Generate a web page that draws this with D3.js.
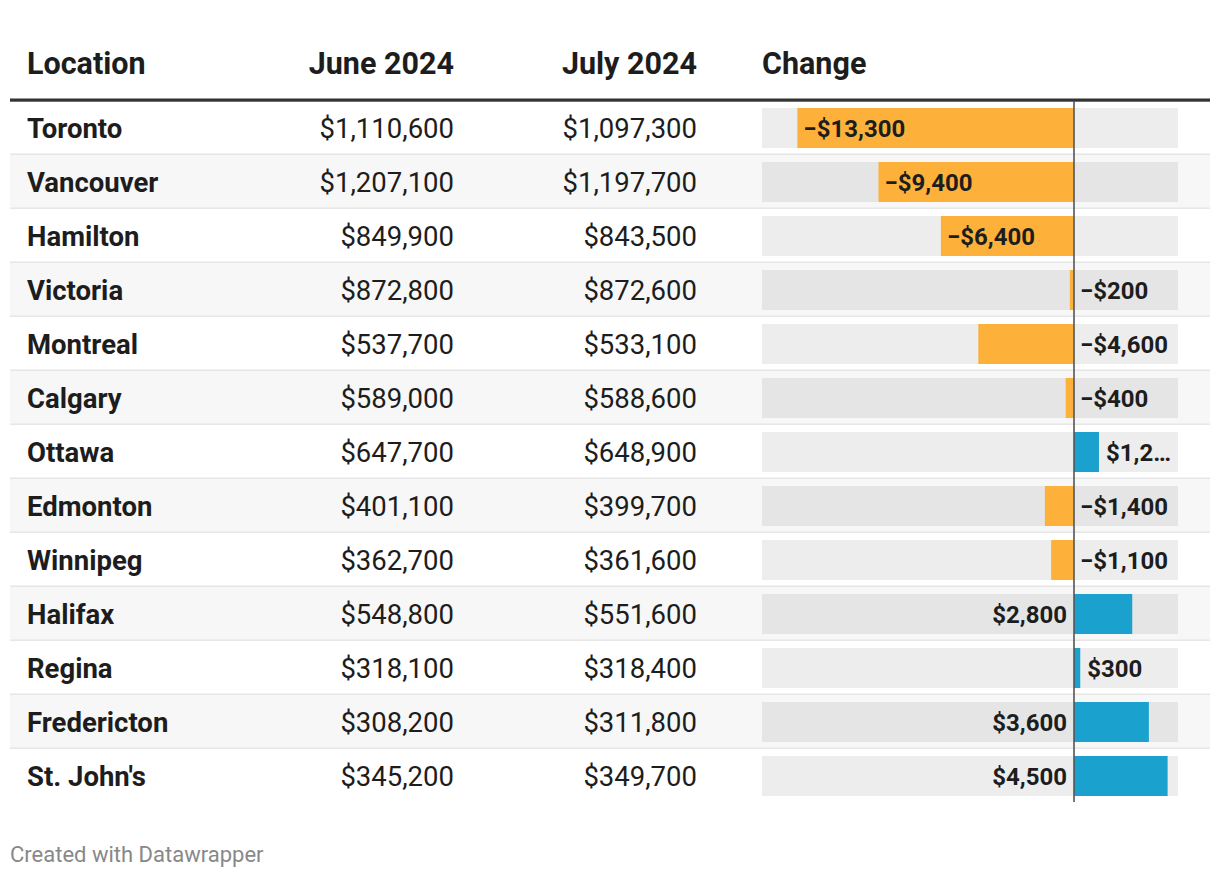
<!DOCTYPE html>
<html><head><meta charset="utf-8">
<script src="https://cdn.jsdelivr.net/npm/d3@7"></script>
<style>
body{margin:0;background:#fff;}
text{font-family:Roboto,"Noto Sans",sans-serif;}
</style></head>
<body><svg id="c" width="1220" height="878"></svg>
<script>
const headers = ["Location", "June 2024", "July 2024", "Change"];
const locations = ["Toronto","Vancouver","Hamilton","Victoria","Montreal","Calgary","Ottawa","Edmonton","Winnipeg","Halifax","Regina","Fredericton","St. John's"];
const june2024 = [1110600,1207100,849900,872800,537700,589000,647700,401100,362700,548800,318100,308200,345200];
const july2024 = [1097300,1197700,843500,872600,533100,588600,648900,399700,361600,551600,318400,311800,349700];
const change = [-13300,-9400,-6400,-200,-4600,-400,1200,-1400,-1100,2800,300,3600,4500];
const changeDomain = [-15000, 5000];
const footer = "Created with Datawrapper";

const svg = d3.select("#c");
const fmtMoney = v => (v < 0 ? "\u2212$" : "$") + d3.format(",")(Math.abs(v));

const y = d3.scaleBand().domain(locations).range([101, 101 + 54*locations.length]).padding(0);
const x = d3.scaleLinear().domain(changeDomain).range([762, 1178]);
const x0 = x(0);

// header
const hy = 74;
const hdr = svg.append("g").attr("font-weight", 700).attr("font-size", 30.5).attr("fill", "#1d1d1d");
hdr.append("text").attr("x", 27).attr("y", hy).text(headers[0]);
hdr.append("text").attr("x", 454).attr("y", hy).attr("text-anchor", "end").text(headers[1]);
hdr.append("text").attr("x", 697).attr("y", hy).attr("text-anchor", "end").text(headers[2]);
hdr.append("text").attr("x", 762).attr("y", hy).text(headers[3]);

// rows
const rows = svg.append("g").selectAll("g").data(locations).join("g")
  .attr("transform", d => `translate(0,${y(d)})`);
rows.append("rect").attr("x", 10).attr("width", 1200).attr("y", 0).attr("height", y.bandwidth())
  .attr("fill", (d,i) => i % 2 ? "#f7f7f7" : "#ffffff");
rows.filter((d,i) => i < locations.length - 1).append("rect").attr("x", 10).attr("width", 1200)
  .attr("y", y.bandwidth() - 1.5).attr("height", 1.5).attr("fill", "#e6e6e6");

const ty = 37;
rows.append("text").attr("x", 27).attr("y", ty).attr("font-size", 27.5).attr("font-weight", 700)
  .attr("fill", "#1d1d1d").text(d => d);
rows.append("text").attr("x", 454).attr("y", ty).attr("font-size", 27.5).attr("text-anchor", "end")
  .attr("fill", "#1d1d1d").text((d,i) => fmtMoney(june2024[i]));
rows.append("text").attr("x", 697).attr("y", ty).attr("font-size", 27.5).attr("text-anchor", "end")
  .attr("fill", "#1d1d1d").text((d,i) => fmtMoney(july2024[i]));

// bar backgrounds
rows.append("rect").attr("x", x(changeDomain[0])).attr("width", x(changeDomain[1]) - x(changeDomain[0]))
  .attr("y", 7).attr("height", 40).attr("fill", "rgba(0,0,0,0.07)");
// bars
rows.append("rect")
  .attr("x", (d,i) => Math.min(x(change[i]), x0))
  .attr("width", (d,i) => Math.abs(x(change[i]) - x0))
  .attr("y", 7).attr("height", 40)
  .attr("fill", (d,i) => change[i] < 0 ? "#fdb13b" : "#1aa1ce");

// labels
rows.each(function(d,i){
  const g = d3.select(this);
  const v = change[i];
  const t = g.append("text").attr("y", 35.5).attr("font-size", 24).attr("font-weight", 700)
    .attr("fill", "#1d1d1d").text(fmtMoney(v));
  const w = t.node().getComputedTextLength();
  const barW = Math.abs(x(v) - x0);
  if (v < 0) {
    if (barW > w + 14) { t.attr("x", x(v) + 6); }
    else { t.attr("x", x0 + 6); }
  } else {
    const rightSpace = x(changeDomain[1]) - x(v) - 7;
    if (w + 2 <= rightSpace) { t.attr("x", x(v) + 7); }
    else if (v >= 2000) { t.attr("x", x0 - 7).attr("text-anchor", "end"); }
    else {
      t.attr("x", x(v) + 7);
      let s = fmtMoney(v);
      while (t.node().getComputedTextLength() > rightSpace && s.length > 1) {
        s = s.slice(0, -1);
        t.text(s + "\u2026");
      }
    }
  }
});

// header rule
svg.append("rect").attr("x", 10).attr("width", 1200).attr("y", 98.5).attr("height", 3.2).attr("fill", "#333");
// zero line
svg.append("line").attr("x1", x0).attr("x2", x0).attr("y1", 101).attr("y2", y.range()[1] - 1)
  .attr("stroke", "#555").attr("stroke-width", 1.6);

svg.append("text").attr("x", 10).attr("y", 862).attr("font-size", 22).attr("fill", "#888").text(footer);
</script></body></html>
